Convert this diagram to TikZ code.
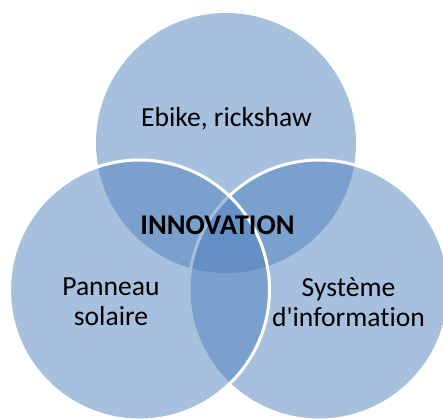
\documentclass[tikz,border=0pt]{standalone}
\usepackage{fontspec}
\setmainfont{Carlito}[Ligatures={NoCommon}]
\definecolor{setblue}{RGB}{79,129,189}
\tikzset{
  set/.style={circle, minimum size=260pt, inner sep=0pt, fill=setblue, fill opacity=0.5},
  setrim/.style={set, draw=white, line width=3pt},
  label/.style={anchor=base, align=center, font=\fontsize{27.6}{30}\selectfont}
}

\begin{document}
\begin{tikzpicture}[x=1pt, y=-1pt]
	\useasboundingbox (0,0) rectangle (443,418);
	\clip (0,0) rectangle (443,418);

	% the three sets
	\node[set]    (c-top)   at (226,143) {};
	\node[setrim] (c-right) at (319,290) {};
	\node[setrim] (c-left)  at (139.5,290) {};

	% labels (base = last line)
	\node[label] (ebike)   at (226.5,126) {Ebike, rickshaw};
	\node[label, font=\fontsize{28.5}{30}\selectfont\bfseries] (innovation) at (217.5,234) {INNOVATION};
	\node[label] (panneau) at (111,325) {Panneau\\solaire};
	\node[label] (systeme) at (348.5,326) {Système\\d\textquotesingle information};
\end{tikzpicture}
\end{document}
